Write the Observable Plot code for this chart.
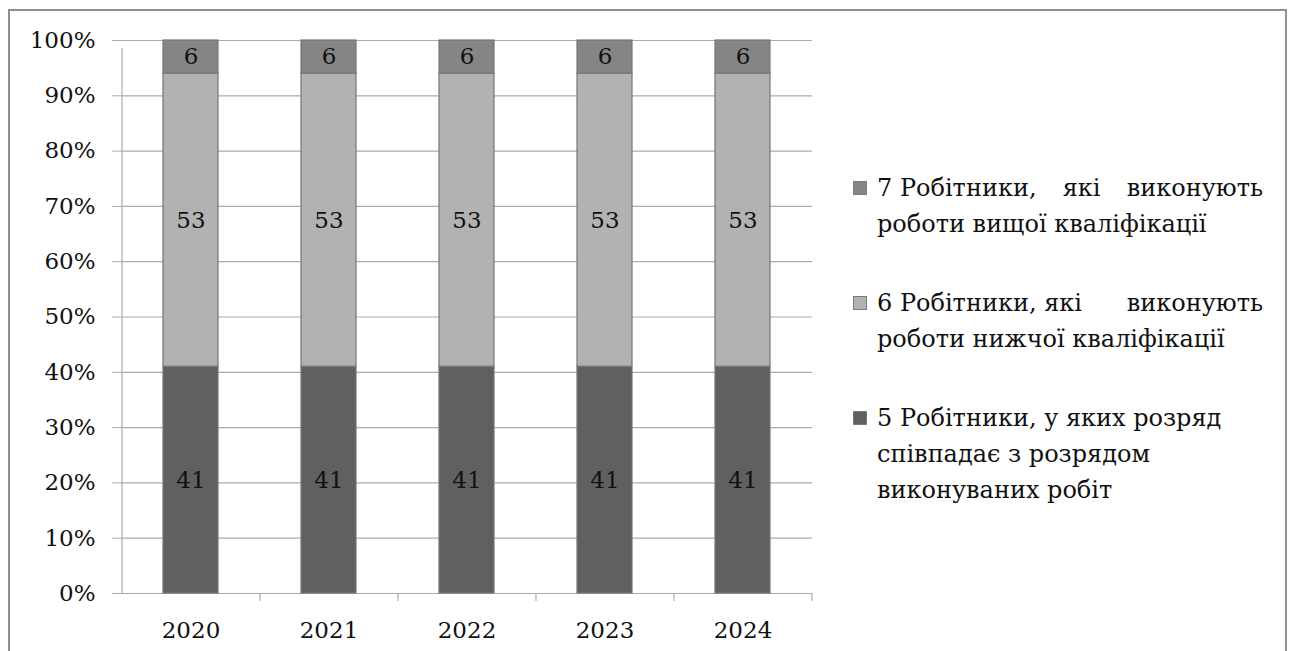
<!DOCTYPE html>
<html>
<head>
<meta charset="utf-8">
<script src="https://cdn.jsdelivr.net/npm/d3@7"></script>
<script src="https://cdn.jsdelivr.net/npm/@observablehq/plot@0.6"></script>
<style>
  html, body { margin: 0; padding: 0; background: #fff; width: 1293px; height: 651px; overflow: hidden; }
  #frame { position: absolute; left: 8px; top: 9px; width: 1279px; height: 720px; border: 2px solid #8f8f8f; box-sizing: border-box; }
  #chart { position: absolute; left: 10px; top: 12px; }
  #legend { position: absolute; left: 853px; top: 170px; width: 410px; font-family: "DejaVu Serif", "Noto Serif", serif; font-size: 24px; line-height: 36px; color: #111; }
  .item { position: relative; padding-left: 24px; margin-bottom: 43px; }
  .sw { position: absolute; left: 0; top: 11px; width: 14px; height: 14px; box-sizing: border-box; border: 1px solid #7a7a7a; }
  .just { display: block; text-align: justify; text-align-last: justify; }
  .grp { display: inline-block; white-space: pre; }
</style>
</head>
<body>
<div id="frame"></div>
<div id="chart"></div>
<div id="legend"></div>
<script>
const years = ["2020", "2021", "2022", "2023", "2024"];
const seriesKeys = ["5", "6", "7"];
const values5 = [41, 41, 41, 41, 41];
const values6 = [53, 53, 53, 53, 53];
const values7 = [6, 6, 6, 6, 6];
const seriesColors = ["#606060", "#b2b2b2", "#858585"];
const yTicks = [0, 10, 20, 30, 40, 50, 60, 70, 80, 90, 100];
// first line of items 7 and 6 is justified; each inner array is a word group kept together
const legendLines = {
  "7": [["7 Робітники,", "які", "виконують"], "роботи вищої кваліфікації"],
  "6": [["6 Робітники, які", "виконують"], "роботи нижчої кваліфікації"],
  "5": ["5 Робітники, у яких розряд", "співпадає з розрядом", "виконуваних робіт"]
};

const table = [];
[values5, values6, values7].forEach((vals, s) => {
  years.forEach((yr, i) => table.push({year: yr, series: seriesKeys[s], value: vals[i]}));
});

const W = 820, H = 639, mL = 112, mR = 18, mT = 28, mB = 58;
const step = (W - mL - mR) / years.length;
const gridColor = "#ababab";
const font = "'DejaVu Serif', 'Noto Serif', serif";
const fs = 23;

const chart = Plot.plot({
  width: W, height: H,
  marginLeft: mL, marginRight: mR, marginTop: mT, marginBottom: mB,
  style: {fontFamily: font, fontSize: fs + "px", background: "transparent", overflow: "visible"},
  x: {domain: years, type: "band", paddingInner: 0.6, paddingOuter: 0.3, label: null},
  y: {domain: [0, 100], label: null},
  color: {domain: seriesKeys, range: seriesColors},
  marks: [
    Plot.ruleY(yTicks, {y: d => d, stroke: gridColor, strokeWidth: 1.2}),
    Plot.axisY({ticks: yTicks, tickFormat: d => d + "%", tickSize: 10, tickPadding: 17, stroke: gridColor, fill: "#111", fontSize: fs, fontFamily: font, label: null}),
    Plot.ruleX([years[0]], {x: d => d, dx: -step / 2, y1: 0, y2: 100, insetBottom: -8, stroke: gridColor, strokeWidth: 1.2}),
    Plot.ruleX(years.slice(1), {x: d => d, dx: -step / 2, y1: 0, y2: 0, insetBottom: -8, stroke: gridColor, strokeWidth: 1.2}),
    Plot.ruleX([years[years.length - 1]], {x: d => d, dx: step / 2, y1: 0, y2: 0, insetBottom: -8, stroke: gridColor, strokeWidth: 1.2}),
    Plot.barY(table, {x: "year", y: "value", fill: "series", stroke: "#767676", strokeWidth: 1.2}),
    Plot.text(table, Plot.stackY({x: "year", y: "value", z: "series", text: d => String(d.value), fill: "#111", fontSize: fs, fontFamily: font})),
    Plot.axisX({tickSize: 0, tickPadding: 28, fill: "#111", fontSize: fs, fontFamily: font, label: null})
  ]
});
document.getElementById("chart").appendChild(chart);

const legend = document.getElementById("legend");
["7", "6", "5"].forEach(k => {
  const item = document.createElement("div");
  item.className = "item";
  const sw = document.createElement("div");
  sw.className = "sw";
  sw.style.background = seriesColors[seriesKeys.indexOf(k)];
  item.appendChild(sw);
  legendLines[k].forEach((line) => {
    const span = document.createElement("span");
    span.style.display = "block";
    if (Array.isArray(line)) {
      span.className = "just";
      line.forEach((g, j) => {
        const gs = document.createElement("span");
        gs.className = "grp";
        gs.textContent = g;
        span.appendChild(gs);
        if (j < line.length - 1) span.appendChild(document.createTextNode(" "));
      });
    } else {
      span.textContent = line;
    }
    item.appendChild(span);
  });
  legend.appendChild(item);
});
</script>
</body>
</html>
